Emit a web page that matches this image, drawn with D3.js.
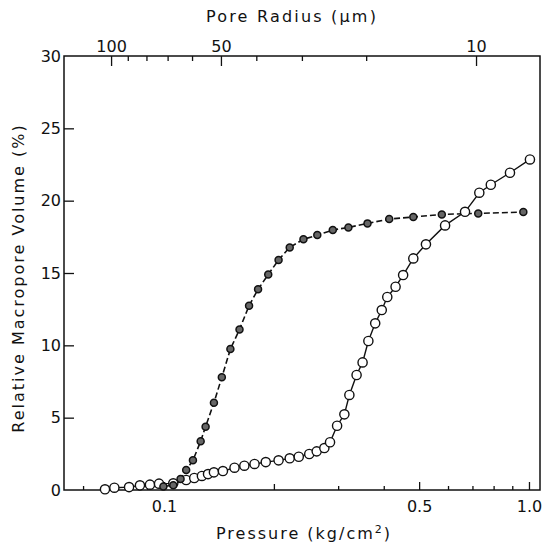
<!DOCTYPE html>
<html>
<head>
<meta charset="utf-8">
<script src="https://cdn.jsdelivr.net/npm/d3@7"></script>
<style>
  body { margin: 0; background: #fff; }
  svg text { font-family: "DejaVu Sans", sans-serif; fill: #111; }
</style>
</head>
<body>
<script>
// pressure (kg/cm2) vs relative macropore volume (%)
const filledP = [0.0996, 0.106, 0.111, 0.115, 0.120, 0.126, 0.130, 0.137, 0.144, 0.152, 0.161, 0.171, 0.181,
  0.193, 0.206, 0.221, 0.241, 0.263, 0.290, 0.320, 0.361, 0.414, 0.482, 0.577, 0.726, 0.965];
const filledV = [0.25, 0.33, 0.76, 1.38, 2.05, 3.37, 4.38, 6.03, 7.79, 9.74, 11.1, 12.74, 13.87,
  14.9, 15.9, 16.77, 17.33, 17.62, 17.97, 18.15, 18.43, 18.73, 18.87, 19.05, 19.12, 19.21];

const openP = [0.0689, 0.0731, 0.0802, 0.0859, 0.0915, 0.0969, 0.106, 0.115, 0.121, 0.127, 0.132, 0.137,
  0.145, 0.156, 0.166, 0.177, 0.190, 0.206, 0.221, 0.234, 0.250, 0.262, 0.275, 0.285, 0.298, 0.312,
  0.322, 0.337, 0.350, 0.363, 0.379, 0.395, 0.409, 0.431, 0.452, 0.482, 0.522, 0.589, 0.668, 0.731,
  0.786, 0.887, 1.006];
const openV = [0.05, 0.16, 0.2, 0.32, 0.37, 0.44, 0.46, 0.69, 0.83, 0.97, 1.1, 1.22,
  1.31, 1.54, 1.68, 1.8, 1.93, 2.05, 2.19, 2.3, 2.49, 2.67, 2.9, 3.3, 4.44, 5.23,
  6.57, 7.95, 8.82, 10.3, 11.52, 12.44, 13.34, 14.05, 14.86, 16.01, 16.98, 18.29, 19.23, 20.55,
  21.1, 21.93, 22.85];

const pTicks = [0.06, 0.07, 0.08, 0.09, 0.1, 0.2, 0.3, 0.4, 0.5, 0.6, 0.7, 0.8, 0.9, 1.0];
const pLabels = {0.1: "0.1", 0.5: "0.5", 1.0: "1.0"};
const rTicks = [100, 90, 80, 70, 60, 50, 40, 30, 20, 10];
const rLabels = {100: "100", 50: "50", 10: "10"};
const vTicks = [0, 5, 10, 15, 20, 25, 30];
const K = 7.16; // radius (um) = K / pressure

const width = 548, height = 549;
const mLeft = 64, mRight = 540, mTop = 56, mBottom = 490;

const svg = d3.select("body").append("svg")
  .attr("width", width)
  .attr("height", height);

const x = d3.scaleLog().domain([0.0532, 1.072]).range([mLeft, mRight]);
const xr = d3.scaleLog().domain([K / 0.0532, K / 1.072]).range([mLeft, mRight]);
const y = d3.scaleLinear().domain([0, 30]).range([mBottom, mTop]);

// frame
svg.append("rect")
  .attr("x", mLeft).attr("y", mTop)
  .attr("width", mRight - mLeft).attr("height", mBottom - mTop)
  .attr("fill", "none").attr("stroke", "#111").attr("stroke-width", 1.5);

// bottom axis, ticks inward
const xAxis = d3.axisBottom(x).tickValues(pTicks)
  .tickSize(0).tickFormat(d => pLabels[d] || "");
const gx = svg.append("g").attr("transform", `translate(0,${mBottom})`).call(xAxis);
gx.select(".domain").remove();
gx.selectAll(".tick line").remove();
gx.selectAll(".tick").append("line")
  .attr("y2", d => pLabels[d] ? -8 : (d === 0.2 ? -6 : -4))
  .attr("stroke", "#111").attr("stroke-width", 1.3);
gx.selectAll(".tick text").attr("y", 11).attr("dy", "0.71em")
  .attr("font-size", 16).attr("fill", "#111");

// top axis, pore radius
const rAxis = d3.axisTop(xr).tickValues(rTicks)
  .tickSize(0).tickFormat(d => rLabels[d] || "");
const gr = svg.append("g").attr("transform", `translate(0,${mTop})`).call(rAxis);
gr.select(".domain").remove();
gr.selectAll(".tick line").remove();
gr.selectAll(".tick").append("line")
  .attr("y2", d => rLabels[d] ? 10 : 5)
  .attr("stroke", "#111").attr("stroke-width", 1.3);
gr.selectAll(".tick text").attr("y", -4).attr("dy", 0)
  .attr("font-size", 16).attr("fill", "#111");

// left axis
const yAxis = d3.axisLeft(y).tickValues(vTicks).tickSize(0);
const gy = svg.append("g").attr("transform", `translate(${mLeft},0)`).call(yAxis);
gy.select(".domain").remove();
gy.selectAll(".tick line").remove();
gy.selectAll(".tick").append("line")
  .attr("x2", d => (d === 0 || d === 30) ? 0 : 10)
  .attr("stroke", "#111").attr("stroke-width", 1.3);
gy.selectAll(".tick text").attr("x", -3)
  .attr("font-size", 16).attr("fill", "#111");

// titles
svg.append("text")
  .attr("x", 292).attr("y", 22)
  .attr("text-anchor", "middle").attr("font-size", 16)
  .attr("letter-spacing", 2.2)
  .text("Pore Radius (\u03bcm)");

const xt = svg.append("text")
  .attr("x", 304).attr("y", 539)
  .attr("text-anchor", "middle").attr("font-size", 16)
  .attr("letter-spacing", 2);
xt.append("tspan").text("Pressure (kg/cm");
xt.append("tspan").attr("font-size", 11).attr("dy", -6).text("2");
xt.append("tspan").attr("dy", 6).text(")");

svg.append("text")
  .attr("transform", `translate(24,${278}) rotate(-90)`)
  .attr("text-anchor", "middle").attr("font-size", 16)
  .attr("letter-spacing", 2)
  .text("Relative Macropore Volume (%)");

// series
const line = d3.line().x(d => x(d[0])).y(d => y(d[1]));
const filled = filledP.map((p, i) => [p, filledV[i]]);
const open = openP.map((p, i) => [p, openV[i]]);

svg.append("path").datum(open)
  .attr("d", line).attr("fill", "none")
  .attr("stroke", "#111").attr("stroke-width", 1.4);

svg.append("path").datum(filled)
  .attr("d", line).attr("fill", "none")
  .attr("stroke", "#111").attr("stroke-width", 1.6)
  .attr("stroke-dasharray", "6,3");

svg.append("g").selectAll("circle").data(open).join("circle")
  .attr("cx", d => x(d[0])).attr("cy", d => y(d[1]))
  .attr("r", 4.6).attr("fill", "#fff")
  .attr("stroke", "#111").attr("stroke-width", 1.4);

svg.append("g").selectAll("circle").data(filled).join("circle")
  .attr("cx", d => x(d[0])).attr("cy", d => y(d[1]))
  .attr("r", 3.5).attr("fill", "#666")
  .attr("stroke", "#111").attr("stroke-width", 1.5);
</script>
</body>
</html>
